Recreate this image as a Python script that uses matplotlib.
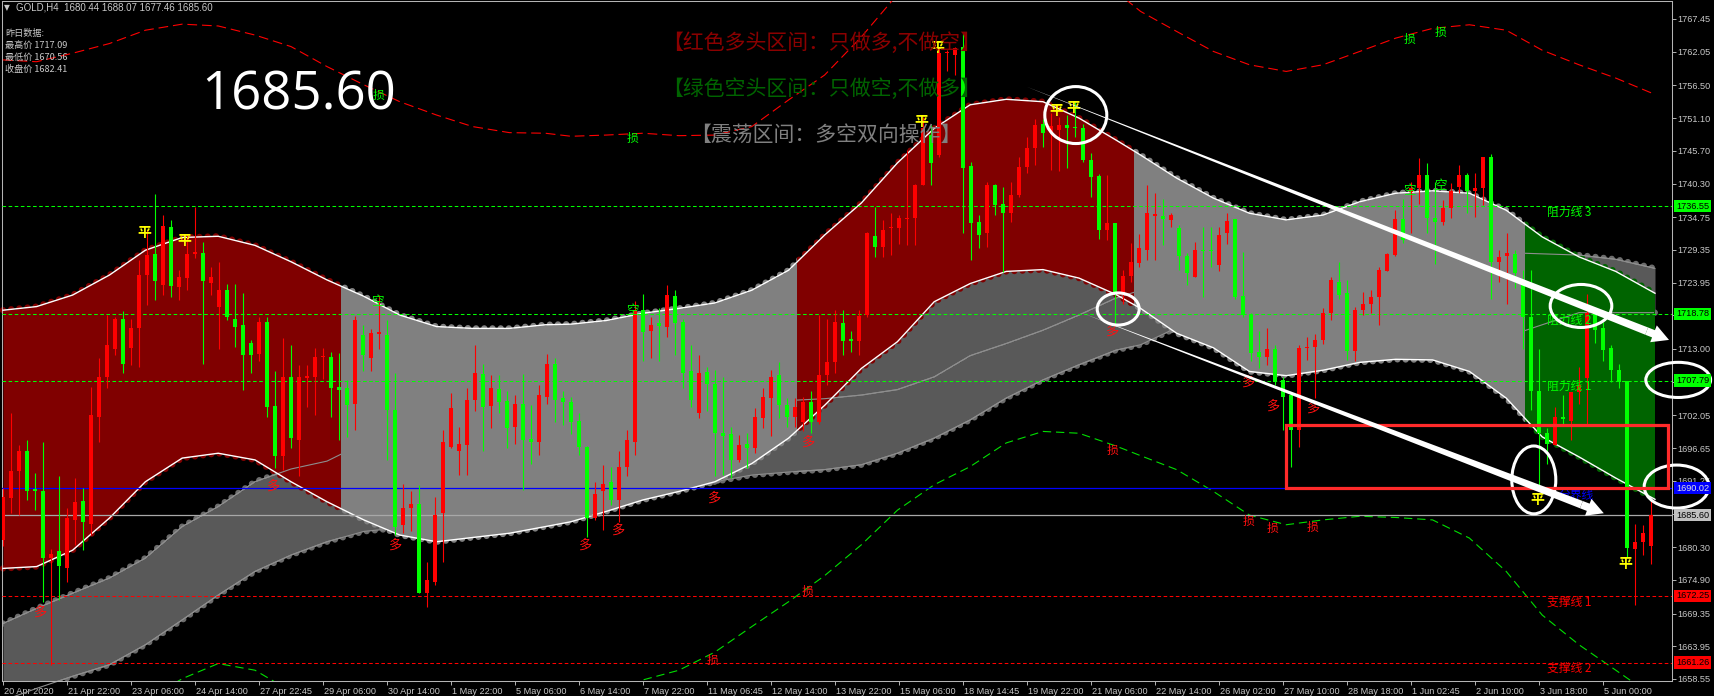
import numpy as np
import matplotlib
matplotlib.use("Agg")
import matplotlib.pyplot as plt
from matplotlib.patches import Rectangle, Ellipse, FancyArrowPatch, ArrowStyle
from matplotlib.transforms import ScaledTranslation

plt.rcParams['lines.scale_dashes'] = False
LAT = ['Liberation Sans', 'DejaVu Sans']
CJK = ['Noto Sans CJK SC', 'DejaVu Sans']
plt.rcParams['font.family'] = LAT

# ---------------- data ----------------
DATE_LABELS = ['20 Apr 2020', '21 Apr 22:00', '23 Apr 06:00', '24 Apr 14:00', '27 Apr 22:45',
               '29 Apr 06:00', '30 Apr 14:00', '1 May 22:00', '5 May 06:00', '6 May 14:00',
               '7 May 22:00', '11 May 06:45', '12 May 14:00', '13 May 22:00', '15 May 06:00',
               '18 May 14:45', '19 May 22:00', '21 May 06:00', '22 May 14:00', '26 May 02:00',
               '27 May 10:00', '28 May 18:00', '1 Jun 02:45', '2 Jun 10:00', '3 Jun 18:00',
               '5 Jun 00:00']
PRICE_TICKS = [1767.45, 1762.05, 1756.50, 1751.10, 1745.70, 1740.30, 1734.75, 1729.35,
               1723.95, 1718.55, 1713.00, 1707.60, 1702.05, 1696.65, 1691.25, 1685.85,
               1680.30, 1674.90, 1669.35, 1663.95, 1658.55]

OPEN = [
    1681.5, 1688.4, 1692.8, 1696.1, 1689.9, 1689.6, 1678.5, 1679.6, 1676.9, 1684.8,
    1687.9, 1684.2, 1701.8, 1708.4, 1713.0, 1718.0, 1713.1, 1716.4, 1725.2, 1728.7,
    1723.6, 1733.1, 1723.3, 1724.7, 1728.7, 1728.8, 1723.9, 1720.0, 1722.7, 1718.0,
    1716.9, 1714.0, 1712.1, 1717.5, 1703.6, 1695.3, 1708.4, 1698.0, 1708.2, 1708.4,
    1711.6, 1711.7, 1706.8, 1706.5, 1703.9, 1715.3, 1711.5, 1715.5, 1715.3, 1703.0,
    1684.0, 1686.7, 1687.4, 1672.7, 1674.6, 1685.9, 1696.9, 1696.1, 1697.2, 1704.6,
    1708.8, 1703.6, 1706.4, 1704.4, 1700.2, 1703.9, 1698.1, 1697.6, 1705.1, 1710.6,
    1704.9, 1704.3, 1701.1, 1696.9, 1685.1, 1689.5, 1691.0, 1688.1, 1693.6, 1697.7,
    1719.5, 1716.0, 1717.3, 1716.7, 1721.7, 1717.5, 1709.3, 1702.4, 1709.2, 1707.2,
    1699.2, 1699.0, 1694.7, 1697.3, 1696.6, 1701.6, 1704.9, 1708.7, 1703.8, 1701.8,
    1701.0, 1704.3, 1701.0, 1708.7, 1710.9, 1717.3, 1714.7, 1714.4, 1718.6, 1731.6,
    1729.8, 1732.9, 1732.9, 1734.4, 1734.6, 1740.0, 1748.3, 1745.0, 1761.8, 1761.5,
    1762.9, 1743.2, 1734.0, 1732.1, 1740.0, 1737.0, 1735.4, 1738.4, 1743.1, 1746.1,
    1750.2, 1748.6, 1749.2, 1749.9, 1749.7, 1749.4, 1744.2, 1741.5, 1732.6, 1733.8,
    1722.2, 1725.0, 1727.2, 1729.4, 1735.0, 1734.9, 1734.3, 1733.0, 1728.3, 1724.9,
    1729.4, 1729.4, 1726.8, 1732.1, 1734.4, 1721.7, 1718.6, 1712.5, 1711.7, 1713.0,
    1707.9, 1705.4, 1699.6, 1713.1, 1713.4, 1714.5, 1718.9, 1724.1, 1722.2, 1712.6,
    1719.4, 1720.5, 1721.6, 1725.9, 1728.5, 1734.4, 1738.9, 1739.5, 1741.7, 1734.6,
    1734.0, 1736.2, 1739.8, 1741.7, 1739.0, 1739.5, 1744.7, 1727.4, 1728.4, 1728.7,
    1723.6, 1718.3, 1706.1, 1699.1, 1697.2, 1701.8, 1701.1, 1705.9, 1708.2, 1718.9,
    1716.5, 1713.1, 1709.5, 1707.7, 1680.0, 1681.2, 1680.44]
HIGH = [
    1690.0, 1702.4, 1697.2, 1698.0, 1692.5, 1697.7, 1680.0, 1692.0, 1686.7, 1691.7,
    1690.0, 1706.8, 1711.5, 1718.6, 1718.3, 1719.2, 1718.0, 1727.7, 1732.6, 1738.6,
    1735.1, 1734.3, 1726.1, 1732.0, 1736.4, 1730.7, 1726.6, 1727.4, 1723.8, 1723.8,
    1722.2, 1714.5, 1718.3, 1718.3, 1709.3, 1714.8, 1713.7, 1710.4, 1710.4, 1713.1,
    1713.1, 1712.5, 1712.3, 1707.9, 1718.5, 1717.0, 1716.3, 1721.9, 1717.8, 1709.0,
    1690.8, 1689.5, 1690.6, 1677.9, 1688.6, 1699.6, 1705.7, 1700.2, 1706.5, 1713.7,
    1710.6, 1708.7, 1708.7, 1706.0, 1705.4, 1708.8, 1703.8, 1707.1, 1712.1, 1711.5,
    1706.0, 1705.0, 1702.5, 1697.0, 1691.1, 1693.8, 1693.6, 1696.1, 1699.6, 1721.0,
    1722.0, 1718.3, 1719.7, 1723.5, 1722.7, 1718.0, 1713.7, 1712.0, 1710.1, 1709.5,
    1708.4, 1700.2, 1698.8, 1699.1, 1703.2, 1706.6, 1709.5, 1710.9, 1704.9, 1704.9,
    1705.0, 1706.0, 1718.6, 1718.0, 1719.4, 1719.4, 1716.0, 1719.4, 1732.3, 1736.5,
    1734.3, 1735.4, 1735.1, 1745.8, 1740.3, 1751.3, 1749.9, 1762.6, 1762.3, 1762.9,
    1765.1, 1743.9, 1735.1, 1740.6, 1740.3, 1739.8, 1740.6, 1744.7, 1748.0, 1751.0,
    1751.0, 1752.0, 1751.3, 1751.6, 1753.8, 1750.2, 1745.3, 1741.9, 1741.7, 1733.8,
    1726.0, 1730.5, 1732.0, 1740.0, 1738.7, 1737.8, 1735.5, 1733.5, 1728.8, 1730.7,
    1733.2, 1733.2, 1733.2, 1735.4, 1734.5, 1729.0, 1719.0, 1716.0, 1716.4, 1713.7,
    1708.4, 1705.7, 1713.7, 1715.0, 1715.4, 1719.7, 1724.9, 1727.4, 1724.4, 1720.0,
    1722.4, 1722.7, 1726.6, 1728.9, 1736.0, 1737.7, 1740.6, 1744.5, 1743.7, 1740.6,
    1737.6, 1740.4, 1743.4, 1742.1, 1742.0, 1744.7, 1745.2, 1729.3, 1732.1, 1729.4,
    1726.0, 1726.1, 1713.0, 1699.9, 1703.5, 1705.4, 1705.9, 1710.0, 1722.0, 1719.5,
    1717.5, 1713.7, 1710.5, 1707.7, 1684.2, 1684.0, 1688.07]
LOW = [
    1680.5, 1685.9, 1685.6, 1688.1, 1686.4, 1671.3, 1660.9, 1671.6, 1674.6, 1680.7,
    1679.8, 1682.3, 1697.7, 1706.5, 1712.0, 1709.0, 1710.4, 1710.1, 1720.3, 1721.1,
    1721.9, 1721.6, 1721.1, 1722.7, 1728.0, 1710.6, 1721.9, 1713.0, 1717.8, 1713.4,
    1706.2, 1709.0, 1711.0, 1701.8, 1693.3, 1693.0, 1696.6, 1692.0, 1703.5, 1702.1,
    1708.0, 1701.8, 1698.0, 1698.5, 1699.6, 1709.3, 1709.3, 1713.0, 1694.7, 1682.3,
    1682.6, 1682.9, 1672.7, 1670.5, 1674.1, 1677.9, 1696.6, 1692.2, 1692.2, 1702.7,
    1696.1, 1699.9, 1702.4, 1696.6, 1697.4, 1689.7, 1694.1, 1695.5, 1704.0, 1701.0,
    1700.5, 1699.0, 1695.5, 1682.0, 1684.8, 1683.1, 1687.3, 1684.5, 1692.0, 1695.5,
    1711.0, 1711.5, 1711.0, 1715.0, 1712.0, 1706.5, 1703.5, 1701.6, 1702.7, 1692.0,
    1692.2, 1691.7, 1694.4, 1693.3, 1695.8, 1699.9, 1698.7, 1701.6, 1700.2, 1700.2,
    1699.5, 1699.1, 1700.7, 1707.0, 1709.0, 1712.0, 1712.5, 1712.0, 1718.3, 1728.2,
    1728.2, 1728.5, 1730.4, 1730.2, 1730.2, 1740.0, 1740.0, 1744.7, 1758.8, 1758.2,
    1732.1, 1727.7, 1729.6, 1729.9, 1735.1, 1725.7, 1734.0, 1738.1, 1742.0, 1743.4,
    1746.4, 1742.5, 1742.3, 1742.8, 1748.0, 1743.9, 1738.1, 1731.2, 1731.0, 1717.2,
    1720.5, 1724.0, 1726.5, 1727.7, 1727.7, 1730.2, 1733.2, 1726.0, 1723.6, 1724.9,
    1721.6, 1726.5, 1725.8, 1730.4, 1721.3, 1718.3, 1711.0, 1709.8, 1710.4, 1707.0,
    1699.6, 1693.6, 1696.9, 1711.2, 1704.9, 1713.9, 1717.8, 1721.3, 1711.2, 1711.0,
    1718.6, 1718.9, 1717.0, 1725.8, 1728.3, 1730.5, 1732.1, 1737.0, 1732.1, 1727.1,
    1733.5, 1734.6, 1738.7, 1735.4, 1734.8, 1736.7, 1721.3, 1724.1, 1720.5, 1723.0,
    1713.0, 1703.0, 1690.6, 1694.1, 1697.2, 1700.7, 1698.0, 1704.0, 1700.5, 1714.0,
    1711.0, 1707.6, 1706.5, 1678.7, 1670.7, 1679.0, 1677.46]
CLOSE = [
    1688.6, 1692.8, 1696.1, 1689.5, 1689.5, 1678.5, 1679.1, 1677.2, 1685.1, 1687.8,
    1684.5, 1702.1, 1708.4, 1713.7, 1717.9, 1710.6, 1716.4, 1725.2, 1728.5, 1724.3,
    1733.3, 1723.4, 1724.8, 1728.7, 1729.0, 1724.3, 1724.9, 1722.7, 1718.2, 1716.7,
    1712.0, 1712.0, 1717.5, 1703.5, 1695.3, 1708.4, 1698.3, 1708.4, 1708.5, 1711.7,
    1711.8, 1706.5, 1706.2, 1703.8, 1717.8, 1712.0, 1715.6, 1715.8, 1703.0, 1683.7,
    1686.7, 1687.5, 1672.7, 1674.9, 1685.6, 1697.7, 1703.2, 1697.4, 1704.6, 1709.0,
    1703.5, 1706.6, 1704.2, 1700.0, 1704.0, 1698.0, 1697.6, 1705.4, 1710.6, 1704.6,
    1704.2, 1701.0, 1696.9, 1685.1, 1689.0, 1690.8, 1688.1, 1693.6, 1698.0, 1719.5,
    1715.8, 1716.9, 1716.8, 1721.9, 1717.3, 1709.0, 1704.6, 1709.0, 1707.3, 1699.1,
    1698.7, 1694.7, 1697.2, 1696.6, 1701.7, 1705.0, 1708.4, 1703.8, 1701.8, 1703.5,
    1704.2, 1701.0, 1708.7, 1710.9, 1717.5, 1714.4, 1714.4, 1718.4, 1732.1, 1729.8,
    1732.7, 1733.2, 1734.6, 1734.6, 1740.0, 1749.4, 1743.7, 1761.8, 1762.0, 1762.7,
    1742.8, 1733.8, 1731.8, 1740.0, 1736.7, 1735.4, 1738.4, 1743.1, 1746.1, 1750.0,
    1748.6, 1749.8, 1749.9, 1749.4, 1749.4, 1744.2, 1741.4, 1732.7, 1733.8, 1722.2,
    1725.1, 1727.4, 1729.6, 1735.4, 1735.2, 1734.4, 1735.1, 1728.3, 1725.5, 1729.4,
    1729.2, 1729.1, 1731.8, 1734.1, 1721.6, 1718.6, 1712.3, 1711.6, 1713.0, 1707.6,
    1705.1, 1699.6, 1713.1, 1713.4, 1714.5, 1718.9, 1724.4, 1721.9, 1712.6, 1719.4,
    1720.5, 1721.6, 1726.0, 1728.7, 1734.4, 1731.0, 1739.6, 1741.7, 1734.6, 1734.0,
    1736.2, 1739.1, 1741.7, 1739.0, 1739.5, 1744.7, 1727.4, 1728.1, 1728.8, 1725.5,
    1718.3, 1706.0, 1699.1, 1697.4, 1701.8, 1701.4, 1705.9, 1707.0, 1718.9, 1716.1,
    1712.8, 1709.5, 1707.6, 1680.1, 1681.1, 1682.6, 1685.60]

# indicator curves sampled at these bar positions
BAND_X = [0, 4.2, 8.7, 13.3, 17.8, 22.4, 26.9, 31.5, 36, 40.5, 45.1, 49.6, 54.2, 58.7, 63.3, 67.8,
          71, 75.4, 80, 84.5, 89, 93.6, 98.2, 102.7, 107.3, 111.8, 116.4, 120.9, 125.4, 130, 134.5,
          139.1, 142.2, 146.7, 151.3, 155.8, 160.4, 165, 169.6, 174.1, 178.7, 183.3, 187.9, 192.4,
          197, 201.6, 206.5]
BAND_UP = [1719.4, 1720.0, 1721.9, 1725.2, 1729.3, 1731.4, 1731.6, 1730.1, 1727.4, 1724.4, 1721.7,
           1718.6, 1716.7, 1716.4, 1716.4, 1717.0, 1717.1, 1717.7, 1718.9, 1719.7, 1720.6, 1722.7,
           1726.0, 1731.8, 1737.1, 1743.7, 1749.4, 1753.3, 1754.2, 1753.8, 1751.1, 1747.5, 1745.0,
           1741.2, 1737.9, 1735.4, 1734.3, 1735.1, 1737.3, 1738.7, 1739.1, 1738.7, 1735.9, 1731.5,
           1728.2, 1725.8, 1722.2]
BAND_LO = [1676.8, 1677.1, 1679.8, 1685.1, 1691.1, 1695.0, 1695.8, 1694.7, 1691.1, 1687.8, 1684.8,
           1682.3, 1681.2, 1681.9, 1682.6, 1683.7, 1684.5, 1686.2, 1688.1, 1689.5, 1691.1, 1694.1,
           1698.3, 1703.7, 1709.8, 1714.2, 1720.8, 1723.8, 1725.8, 1726.1, 1724.7, 1722.0, 1719.7,
           1715.6, 1713.2, 1709.3, 1708.6, 1709.5, 1710.8, 1711.3, 1711.2, 1709.3, 1704.9, 1698.5,
           1695.2, 1691.7, 1688.2]
CLOUD_TOP = [1667.7, 1670.2, 1672.7, 1675.2, 1678.5, 1683.7, 1687.0, 1691.1, 1693.2, 1694.5, 1697.5,
             1698.5, 1699.5, 1700.5, 1701.5, 1702.2, 1702.8, 1703.3, 1703.8, 1704.0, 1704.2, 1704.4,
             1704.5, 1704.8, 1705.4, 1706.3, 1708.4, 1711.9, 1713.9, 1716.1, 1718.6, 1721.4, 1722.7,
             1724.5, 1726.0, 1727.0, 1727.8, 1728.3, 1728.6, 1728.8, 1729.0, 1729.0, 1728.9, 1728.7,
             1728.5, 1727.8, 1726.3]
CLOUD_BOT = [1655.0, 1657.0, 1659.0, 1660.9, 1664.2, 1668.3, 1672.4, 1676.3, 1679.0, 1681.2, 1682.9,
             1683.5, 1683.0, 1683.5, 1684.5, 1685.5, 1686.5, 1688.0, 1689.5, 1690.5, 1691.1, 1692.2,
             1692.7, 1693.1, 1693.9, 1695.8, 1698.3, 1701.3, 1704.9, 1707.9, 1710.4, 1712.8, 1713.7,
             1716.5, 1716.0, 1712.0, 1711.0, 1712.0, 1713.0, 1714.0, 1714.0, 1714.0, 1715.0, 1717.0,
             1719.0, 1719.0, 1719.0]
ENV_HI = [1760.7, 1760.4, 1761.8, 1763.4, 1765.6, 1766.6, 1766.3, 1764.8, 1762.9, 1759.6, 1756.6,
          1753.8, 1751.6, 1749.7, 1748.7, 1748.6, 1748.1, 1748.3, 1748.6, 1748.2, 1748.3, 1749.7,
          1754.1, 1758.2, 1764.5, 1771.5, 1777.0, 1780.0, 1781.0, 1780.0, 1777.0, 1772.0, 1768.7,
          1765.4, 1762.1, 1759.9, 1758.8, 1759.9, 1762.1, 1764.3, 1765.9, 1766.5, 1765.6, 1762.3,
          1759.9, 1757.7, 1755.0]
ENV_LO = [1645.0, 1646.0, 1648.0, 1651.0, 1655.0, 1658.6, 1661.1, 1660.0, 1656.5, 1652.0, 1648.0,
          1645.0, 1643.0, 1642.0, 1643.0, 1646.0, 1649.0, 1653.0, 1658.4, 1660.0, 1663.0, 1667.2,
          1671.3, 1675.6, 1680.7, 1686.4, 1690.6, 1693.6, 1697.5, 1699.4, 1699.1, 1697.0, 1695.4,
          1693.1, 1689.5, 1685.6, 1684.0, 1684.8, 1685.4, 1685.2, 1684.8, 1681.8, 1676.3, 1669.1,
          1664.2, 1660.0, 1655.5]

REGION_SPANS = [(-0.5, 42.3), (42.3, 99.3), (99.3, 141.4), (141.4, 190.3), (190.3, 206.4)]
REGION_COLORS = ['#800000', '#808080', '#800000', '#808080', '#006400']

LEVELS = [1736.55, 1718.78, 1707.79, 1690.02, 1685.60, 1672.25, 1661.26]
LEVEL_COLORS = ['#00ff00', '#00ff00', '#00ff00', '#0000ff', '#a8a8a8', '#ff0000', '#ff0000']
LEVEL_DASHED = [True, True, True, False, False, True, True]
LEVEL_BOX_TEXT = ['black', 'black', 'black', '#e0e0e0', 'black', 'black', 'black']
LEVEL_BOX_BG = ['#00ff00', '#00ff00', '#00ff00', '#0000ff', '#c0c0c0', '#ff0000', '#ff0000']

LEVEL_NAMES = [('阻力线 3', 192.95, 1735.6, '#00ff00'), ('阻力线 2', 192.95, 1717.7, '#00ff00'),
               ('阻力线 1', 192.95, 1706.8, '#00ff00'), ('分界线', 194.4, 1688.9, '#0000ff'),
               ('支撑线 1', 192.95, 1671.3, '#ff0000'), ('支撑线 2', 192.95, 1660.4, '#ff0000')]

MARK_DUO = [(4.6, 1669.6), (33.7, 1690.3), (48.9, 1680.6), (72.7, 1680.6), (76.8, 1683.1),
            (88.8, 1688.4), (100.6, 1697.7), (138.6, 1715.9), (155.6, 1707.6), (158.7, 1703.5),
            (163.7, 1703.2)]
MARK_KONG = [(46.8, 1720.8), (78.7, 1719.4), (175.8, 1739.2), (179.7, 1740.0)]
MARK_PING = [(17.7, 1732.1), (22.7, 1730.9), (114.8, 1750.5), (116.8, 1762.6), (131.7, 1752.2),
             (133.8, 1752.7), (191.8, 1688.1), (202.8, 1677.6)]
MARK_SUN_G = [(46.9, 1754.9), (78.7, 1747.8), (175.8, 1764.1), (179.7, 1765.2)]
MARK_SUN_R = [(138.7, 1696.2), (100.6, 1673.0), (88.7, 1661.7), (155.7, 1684.5), (158.7, 1683.4),
              (163.7, 1683.5)]

ELLIPSES = [(134.1, 1751.6, 7.75, 9.4), (139.4, 1719.6, 5.25, 5.3), (197.25, 1720.1, 7.7, 7.1),
            (191.35, 1691.4, 5.5, 11.2), (209.4, 1707.9, 8.1, 5.8), (209.2, 1690.3, 8.1, 7.1)]
RED_BOX = (160.4, 1690.1, 208.1, 1700.46)
ARROWS = [((127.9, 1756.3), (208.25, 1714.5)), ((134.96, 1718.9), (200.1, 1685.9))]

# ---------------- figure ----------------
W, H = 1714, 696
fig = plt.figure(figsize=(W / 100, H / 100), dpi=100, facecolor='black')
ax = fig.add_axes([2 / W, 15 / H, 1670 / W, 680 / H], facecolor='black')
X0, X1 = -0.125, 208.625
Y0, Y1 = 1658.22, 1770.42
ax.set_xlim(X0, X1)
ax.set_ylim(Y0, Y1)


def clip_rect(a, b):
    return Rectangle((a, Y0 - 60), b - a, (Y1 - Y0) + 120, transform=ax.transData)


DOT = dict(lw=4.6, dashes=(0.01, 5.9), dash_capstyle='round')

# cloud (dark grey band)
ax.plot(BAND_X, CLOUD_TOP, color='#6c6c6c', zorder=0.9, **DOT)
ax.plot(BAND_X, CLOUD_BOT, color='#6c6c6c', zorder=0.9, **DOT)
ax.fill_between(BAND_X, CLOUD_BOT, CLOUD_TOP, color='#595959', lw=0, zorder=1)
fb = ax.fill_between(BAND_X, BAND_LO, CLOUD_TOP, color='#595959', lw=0, zorder=1)
fb.set_clip_path(clip_rect(99.3, 190.3))
ax.plot(BAND_X, CLOUD_TOP, color='#8e8e8e', lw=0.8, zorder=1.1)
ax.plot(BAND_X, CLOUD_BOT, color='#8e8e8e', lw=0.8, zorder=1.1)

# main channel
for (a, b), colr in zip(REGION_SPANS, REGION_COLORS):
    for yy in (BAND_UP, BAND_LO):
        ln, = ax.plot(BAND_X, yy, color=colr, zorder=1.95, **DOT)
        ln.set_clip_path(clip_rect(a, b))
    f = ax.fill_between(BAND_X, BAND_LO, BAND_UP, color=colr, lw=0, zorder=2)
    f.set_clip_path(clip_rect(a, b))
    if colr != '#808080':
        for yy in (CLOUD_TOP, CLOUD_BOT):
            ln, = ax.plot(BAND_X, yy, color='#8e8e8e', lw=0.8, zorder=2.05)
            ln.set_clip_path(clip_rect(a, b))

ax.plot(BAND_X, BAND_UP, color='white', lw=1.0, zorder=3)
ax.plot(BAND_X, BAND_LO, color='white', lw=1.0, zorder=3)

# envelopes
ax.plot(BAND_X, ENV_HI, color='#ff0000', lw=0.8, dashes=(7, 3.5), zorder=3.1)
ax.plot(BAND_X, ENV_LO, color='#00e000', lw=0.8, dashes=(6, 3.5), zorder=3.1)

# level lines
for lv, colr, dsh in zip(LEVELS, LEVEL_COLORS, LEVEL_DASHED):
    if dsh:
        ax.axhline(lv, color=colr, lw=0.75, dashes=(2.6, 1.8), zorder=3.2)
    else:
        ax.axhline(lv, color=colr, lw=0.9, zorder=3.2)

# candles
o, hi, lo, c = map(np.array, (OPEN, HIGH, LOW, CLOSE))
idx = np.arange(len(o))
col = np.where(c >= o, '#ff0000', '#00ff00')
ax.vlines(idx, lo, hi, colors=col, lw=0.8, zorder=5)
ax.bar(idx, np.maximum(np.abs(c - o), 0.17), bottom=np.minimum(o, c), width=0.62,
       color=col, linewidth=0, zorder=6)

# markers
for x, y in MARK_DUO:
    ax.text(x, y, '多', color='#ff1010', fontsize=9.5, family=CJK, ha='center', va='center', zorder=7)
for x, y in MARK_KONG:
    ax.text(x, y, '空', color='#00ff00', fontsize=9, family=CJK, ha='center', va='center', zorder=7)
for x, y in MARK_PING:
    ax.text(x, y, '平', color='#ffff00', fontsize=10, family=CJK, ha='center', va='center',
            fontweight='bold', zorder=7)
for x, y in MARK_SUN_G:
    ax.text(x, y, '损', color='#00ff00', fontsize=8.5, family=CJK, ha='center', va='center', zorder=7)
for x, y in MARK_SUN_R:
    ax.text(x, y, '损', color='#ff1010', fontsize=8.5, family=CJK, ha='center', va='center', zorder=7)

for txt, x, y, colr in LEVEL_NAMES:
    ax.text(x, y, txt, color=colr, fontsize=8.5, family=CJK, ha='left', va='center', zorder=7)

# white ellipses, red box, arrows
for cx, cy, w, h in ELLIPSES:
    ax.add_patch(Ellipse((cx, cy), w, h, fill=False, ec='white', lw=2.2, clip_on=False, zorder=8))
bx0, by0, bx1, by1 = RED_BOX
ax.add_patch(Rectangle((bx0, by0), bx1 - bx0, by1 - by0, fill=False, ec='#ff2a2a', lw=2.3,
                       clip_on=False, zorder=8))

for (sx, sy), (tx, ty) in ARROWS:
    p0 = ax.transData.transform((sx, sy))
    p1 = ax.transData.transform((tx, ty))
    length = np.hypot(*(p1 - p0))
    f = 24.0 / length
    bx, by = tx - f * (tx - sx), ty - f * (ty - sy)
    ax.add_patch(FancyArrowPatch((bx, by), (sx, sy),
                                 arrowstyle=ArrowStyle.Wedge(tail_width=5.6, shrink_factor=0.5),
                                 color='white', lw=0, shrinkA=0, shrinkB=0, mutation_scale=1,
                                 clip_on=False, zorder=8))
    ax.add_patch(FancyArrowPatch((bx, by), (tx, ty),
                                 arrowstyle=ArrowStyle.Simple(head_length=12, head_width=13,
                                                              tail_width=5.6),
                                 color='white', lw=0, shrinkA=0, shrinkB=0, mutation_scale=1,
                                 clip_on=False, zorder=8))

# axes styling
for s in ax.spines.values():
    s.set_color('#b4b4b4')
    s.set_linewidth(0.75)
ax.yaxis.tick_right()
ax.set_yticks(PRICE_TICKS)
ax.set_yticklabels([f'{v:.2f}' for v in PRICE_TICKS])
ax.tick_params(axis='y', colors='#b4b4b4', labelcolor='#c8c8c8', length=3, width=0.7, pad=1.2,
               labelsize=6.6)
ax.set_xticks(np.arange(0, 8 * len(DATE_LABELS), 8))
ax.set_xticklabels(DATE_LABELS)
ax.tick_params(axis='x', colors='#b4b4b4', labelcolor='#c8c8c8', length=3, width=0.7, pad=1.0,
               labelsize=6.6)
for lbl in ax.get_xticklabels():
    lbl.set_horizontalalignment('left')
    lbl.set_transform(lbl.get_transform() + ScaledTranslation(1.5 / 100, 0, fig.dpi_scale_trans))

# level value boxes on the price scale
for lv, fg, bg in zip(LEVELS, LEVEL_BOX_TEXT, LEVEL_BOX_BG):
    ax.text(1.0024, lv, f'{lv:.2f}', transform=ax.get_yaxis_transform(), color=fg, fontsize=6.6,
            ha='left', va='center', clip_on=False, zorder=9,
            bbox=dict(boxstyle='square,pad=0.18', fc=bg, ec='none'))

# header texts
fig.text(4 / W, 1 - 8 / H, '▼', color='#c8c8c8', fontsize=5.5, va='center', family=['DejaVu Sans'])
fig.text(16 / W, 1 - 8 / H, 'GOLD,H4  1680.44 1688.07 1677.46 1685.60', color='#c8c8c8',
         fontsize=7, va='center')
for i, line in enumerate(['昨日数据:', '最高价 1717.09', '最低价 1670.56', '收盘价 1682.41']):
    fig.text(5 / W, 1 - (33.5 + 12 * i) / H, line, color='#c8c8c8', fontsize=6.6, va='center',
             family=CJK)
fig.text(299 / W, 1 - 109 / H, '1685.60', color='white', fontsize=38, ha='center',
         va='baseline', family=['Open Sans', 'DejaVu Sans'])

fig.text(662 / W, 1 - 43 / H, '【红色多头区间：只做多,不做空】', color='#8b0000', fontsize=15,
         va='center', family=CJK)
fig.text(662 / W, 1 - 89 / H, '【绿色空头区间：只做空,不做多】', color='#006400', fontsize=15,
         va='center', family=CJK)
fig.text(690 / W, 1 - 135 / H, '【震荡区间：多空双向操作】', color='#808080', fontsize=15,
         va='center', family=CJK)

fig.savefig('out.png', dpi=100, facecolor='black')
